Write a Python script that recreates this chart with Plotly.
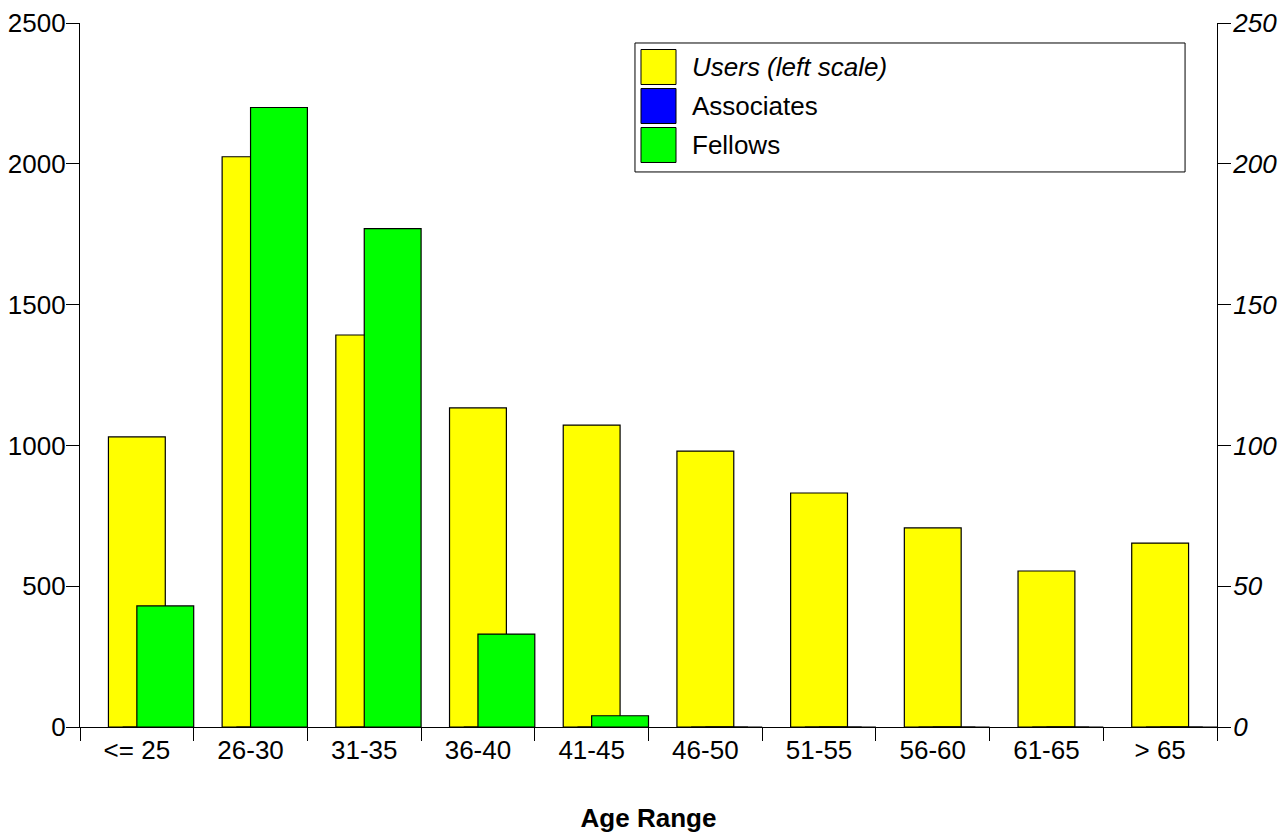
import plotly.graph_objects as go

categories = ["<= 25", "26-30", "31-35", "36-40", "41-45", "46-50", "51-55", "56-60", "61-65", "> 65"]
users = [1030, 2025, 1392, 1133, 1072, 980, 831, 707, 554, 653]
associates = [0, 0, 0, 0, 0, 0, 0, 0, 0, 0]
fellows = [43, 220, 177, 33, 4, 0, 0, 0, 0, 0]

series_names = ["<i>Users (left scale)</i>", "Associates", "Fellows"]
series_colors = ["#FFFF00", "#0000FF", "#00FF00"]

FONT = "Liberation Sans, Arial, sans-serif"
FS = 26
LW = 1.2

fig = go.Figure()
fig.add_trace(go.Bar(
    x=categories, y=users, name=series_names[0],
    marker=dict(color=series_colors[0], line=dict(color="black", width=LW)),
    offset=-0.25, width=0.5, yaxis="y",
))
fig.add_trace(go.Bar(
    x=categories, y=associates, name=series_names[1],
    marker=dict(color=series_colors[1], line=dict(color="black", width=LW)),
    offset=-0.125, width=0.5, yaxis="y2",
))
fig.add_trace(go.Bar(
    x=categories, y=fellows, name=series_names[2],
    marker=dict(color=series_colors[2], line=dict(color="black", width=LW)),
    offset=0.0, width=0.5, yaxis="y2",
))

# Legend box (drawn in paper coordinates to reproduce the large swatches)
LX0, LX1, LY0, LY1 = 0.4881, 0.9719, 0.7884, 0.9716
shapes = [dict(type="rect", xref="paper", yref="paper", x0=LX0, x1=LX1, y0=LY0, y1=LY1,
               line=dict(color="black", width=1), fillcolor="white", layer="above")]
annotations = []
row_centers = [0.9375, 0.8821, 0.8267]
SW_H = 0.0497
for name, color, yc in zip(series_names, series_colors, row_centers):
    shapes.append(dict(type="rect", xref="paper", yref="paper",
                       x0=0.4934, x1=0.5242, y0=yc - SW_H / 2, y1=yc + SW_H / 2,
                       line=dict(color="black", width=1), fillcolor=color, layer="above"))
    annotations.append(dict(xref="paper", yref="paper", x=0.5365, y=yc,
                            xanchor="left", yanchor="middle", text=name, showarrow=False,
                            font=dict(family=FONT, size=FS, color="black")))

fig.update_layout(
    width=1279, height=825,
    margin=dict(l=72, r=70, t=15, b=106, autoexpand=False),
    paper_bgcolor="white", plot_bgcolor="white",
    barmode="overlay",
    font=dict(family=FONT, size=FS, color="black"),
    showlegend=False,
    shapes=shapes, annotations=annotations,
    xaxis=dict(
        type="category", range=[-0.5, 9.5], automargin=False,
        showline=True, linecolor="black", linewidth=LW,
        ticks="outside", ticklen=13, tickcolor="black", tickwidth=LW,
        tickson="boundaries", showgrid=False, zeroline=False,
        tickfont=dict(family=FONT, size=FS),
        title=dict(text="<b>Age Range</b>", standoff=44,
                   font=dict(family=FONT, size=FS)),
    ),
    yaxis=dict(
        range=[0, 2500], tickvals=[0, 500, 1000, 1500, 2000, 2500],
        tickformat="d", automargin=False, ticklabelstandoff=-5,
        showline=True, linecolor="black", linewidth=LW,
        ticks="outside", ticklen=13, tickcolor="black", tickwidth=LW,
        showgrid=False, zeroline=False,
        tickfont=dict(family=FONT, size=FS),
    ),
    yaxis2=dict(
        range=[0, 250], tickvals=[0, 50, 100, 150, 200, 250],
        overlaying="y", side="right", automargin=False, ticklabelstandoff=-3,
        showline=True, linecolor="black", linewidth=LW,
        ticks="outside", ticklen=13, tickcolor="black", tickwidth=LW,
        showgrid=False, zeroline=False,
        tickfont=dict(family=FONT, size=FS, style="italic"),
    ),
)

fig.write_html("out.html")
